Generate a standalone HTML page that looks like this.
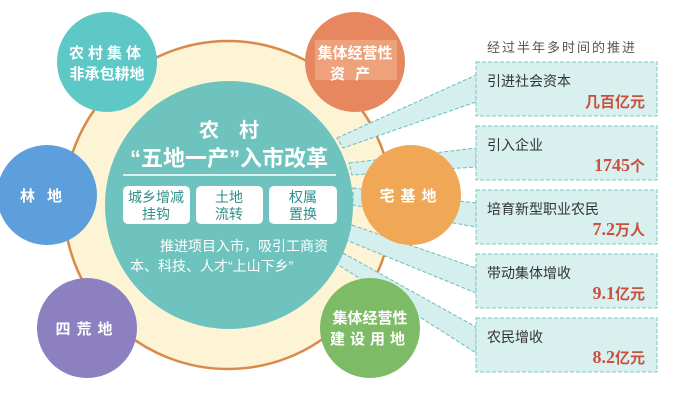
<!DOCTYPE html>
<html><head><meta charset="utf-8"><style>
html,body{margin:0;padding:0;background:#fff;}
svg{display:block;font-family:"Liberation Sans","Noto Sans CJK SC",sans-serif;}
</style></head><body>
<svg width="687" height="401" viewBox="0 0 687 401" xmlns="http://www.w3.org/2000/svg">
<circle cx="228" cy="205" r="164" fill="#fdf4d6" stroke="#d98a4a" stroke-width="2.5"/>
<!-- bands -->
<g fill="#d4efee" stroke="#6cbdbd" stroke-width="1" stroke-dasharray="4,2">
<polygon points="337,138 476,75 476,102 343,148"/>
<polygon points="349,163 476,148 476,167 352,175"/>
<polygon points="353,188 476,203 476,227 353,205"/>
<polygon points="352,225 476,268 476,293 346,240"/>
<polygon points="343,253 476,327 476,353 337,264"/>
</g>
<g fill="#d8f1ef" stroke="#7cc4c4" stroke-width="1" stroke-dasharray="4,2">
<rect x="476" y="62" width="181" height="54"/>
<rect x="476" y="126" width="181" height="54"/>
<rect x="476" y="190" width="181" height="54"/>
<rect x="476" y="254" width="181" height="54"/>
<rect x="476" y="318" width="181" height="54"/>
</g>
<text x="487" y="52" font-size="13" fill="#555" letter-spacing="2">经过半年多时间的推进</text>
<g font-size="14" fill="#333">
<text x="487" y="86">引进社会资本</text>
<text x="487" y="150">引入企业</text>
<text x="487" y="214">培育新型职业农民</text>
<text x="487" y="278">带动集体增收</text>
<text x="487" y="342">农民增收</text>
</g>
<g fill="#c9503d" font-weight="bold" text-anchor="end">
<text x="645" y="107" font-size="15">几百亿元</text>
<text x="645" y="171" font-size="18" font-family="Liberation Serif,serif">1745<tspan font-size="15" font-family="Liberation Sans,Noto Sans CJK SC,sans-serif">个</tspan></text>
<text x="645" y="235" font-size="18" font-family="Liberation Serif,serif">7.2<tspan font-size="15" font-family="Liberation Sans,Noto Sans CJK SC,sans-serif">万人</tspan></text>
<text x="645" y="299" font-size="18" font-family="Liberation Serif,serif">9.1<tspan font-size="15" font-family="Liberation Sans,Noto Sans CJK SC,sans-serif">亿元</tspan></text>
<text x="645" y="363" font-size="18" font-family="Liberation Serif,serif">8.2<tspan font-size="15" font-family="Liberation Sans,Noto Sans CJK SC,sans-serif">亿元</tspan></text>
</g>
<!-- central -->
<circle cx="229" cy="205" r="124" fill="#6fc3bf"/>
<g fill="#fff" font-weight="bold" text-anchor="middle">
<text x="229" y="137" font-size="20">农　村</text>
<text x="229" y="166" font-size="22">“五地一产”入市改革</text>
</g>
<line x1="123" y1="175" x2="336" y2="175" stroke="#fff" stroke-width="1.5"/>
<g fill="#fff">
<rect x="123" y="186" width="67" height="38" rx="5"/>
<rect x="196" y="186" width="67" height="38" rx="5"/>
<rect x="269" y="186" width="68" height="38" rx="5"/>
</g>
<g fill="#2f8f8b" font-size="14" text-anchor="middle">
<text x="156" y="202">城乡增减</text><text x="156" y="219">挂钩</text>
<text x="229" y="202">土地</text><text x="229" y="219">流转</text>
<text x="303" y="202">权属</text><text x="303" y="219">置换</text>
</g>
<g fill="#fff" font-size="14">
<text x="160" y="251">推进项目入市，吸引工商资</text>
<text x="130" y="271">本、科技、人才“上山下乡”</text>
</g>
<!-- satellites -->
<circle cx="107" cy="62" r="50" fill="#5ec8c7"/>
<circle cx="355" cy="62" r="50" fill="#e6875f"/>
<rect x="315" y="40" width="82" height="40" fill="#eea27c"/>
<circle cx="47" cy="195" r="50" fill="#5c9fdc"/>
<circle cx="87" cy="328" r="50" fill="#8c80c0"/>
<circle cx="370" cy="328" r="50" fill="#7dbb66"/>
<circle cx="411" cy="195" r="50" fill="#f0a857"/>
<g fill="#fff" font-weight="bold" font-size="15" text-anchor="middle">
<text x="107" y="58" letter-spacing="4">农村集体</text>
<text x="107" y="79">非承包耕地</text>
<text x="355" y="58">集体经营性</text>
<text x="355" y="79" letter-spacing="10">资产</text>
<text x="47" y="201" letter-spacing="12">林地</text>
<text x="87" y="334" letter-spacing="6">四荒地</text>
<text x="370" y="323">集体经营性</text>
<text x="370" y="344" letter-spacing="5">建设用地</text>
<text x="411" y="201" letter-spacing="6">宅基地</text>
</g>
</svg>
</body></html>
